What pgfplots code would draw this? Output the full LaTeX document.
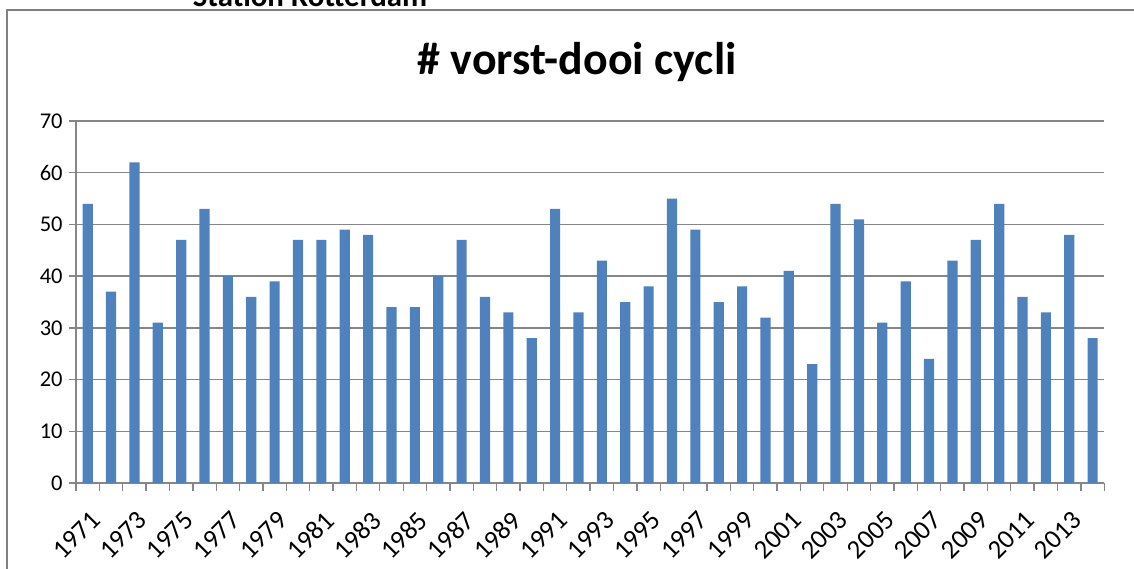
\documentclass[border=0pt]{standalone}
\usepackage{pgfplots}
\pgfplotsset{compat=1.18}
\usepackage{pgfplotstable}
\usepackage{fontspec}
\setmainfont{Carlito}
\definecolor{barblue}{RGB}{79,129,189}
\definecolor{gridgray}{RGB}{134,134,134}
\definecolor{framegray}{RGB}{128,128,128}

% frost-thaw cycles per year, station Rotterdam
\pgfplotstableread{
year cycles
1971 54
1972 37
1973 62
1974 31
1975 47
1976 53
1977 40
1978 36
1979 39
1980 47
1981 47
1982 49
1983 48
1984 34
1985 34
1986 40
1987 47
1988 36
1989 33
1990 28
1991 53
1992 33
1993 43
1994 35
1995 38
1996 55
1997 49
1998 35
1999 38
2000 32
2001 41
2002 23
2003 54
2004 51
2005 31
2006 39
2007 24
2008 43
2009 47
2010 54
2011 36
2012 33
2013 48
2014 28
}\frostdata

\begin{document}
\begin{tikzpicture}[x=0.6pt,y=0.6pt]
\clip (0,0) rectangle (1134,568);
\draw[framegray, line width=1.2pt] (7,-5) -- (7,558) -- (1140,558);
\node[font=\bfseries\fontsize{18.5}{20}\selectfont, anchor=base] at (310,561) {Station Rotterdam};
\node[font=\bfseries\fontsize{27.5}{30}\selectfont] at (577,506) {\# vorst-dooi cycli};
\begin{axis}[
  at={(45.6pt,51pt)}, anchor=south west,
  scale only axis, width=617pt, height=217.2pt,
  xmin=1970.5, xmax=2014.5, ymin=0, ymax=70,
  axis x line*=bottom, axis y line*=left,
  axis line style={gridgray, line width=0.8pt},
  ytick={0,10,...,70},
  ymajorgrids, grid style={gridgray, line width=0.8pt},
  xtick={1970.5,1971.5,...,2014.5}, xticklabels={},
  extra x ticks={1971,1973,...,2013},
  extra x tick style={major tick length=0pt, grid=none},
  tick align=outside, major tick length=4.5pt,
  tick style={gridgray, line width=0.8pt},
  /pgf/number format/1000 sep={},
  /pgf/number format/assume math mode=true,
  yticklabel style={font=\fontsize{13.5}{15}\selectfont},
  xticklabel style={font=\fontsize{16}{18}\selectfont,
    xshift=1pt, yshift=-11pt, rotate=45, anchor=north east},
  ybar, bar width=6.1pt,
]
\addplot[fill=barblue, draw=none] table[x=year, y=cycles] {\frostdata};
\end{axis}
\end{tikzpicture}
\end{document}
